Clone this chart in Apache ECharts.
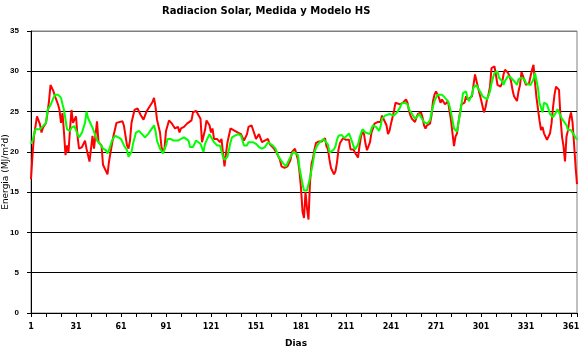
<!DOCTYPE html>
<html>
<head>
<meta charset="utf-8">
<script src="https://cdn.jsdelivr.net/npm/echarts@6/dist/echarts.min.js"></script>
<style>html,body{margin:0;padding:0;background:#fff}#c{width:581px;height:353px}</style>
</head>
<body>
<div id="c"></div>
<script>
// Day numbers and readings for "Medida" (measured, red)
const medDays = [1,2,3,4,5,7,8,9,11,12,13,14,16,17,19,20,21,22,23,24,25,26,27,28,29,31,32,33,35,37,38,40,42,43,45,46,48,49,52,53,55,56,58,62,63,64,65,66,67,68,70,72,74,76,78,80,82,83,84,85,87,88,89,90,91,93,94,95,97,99,100,101,103,105,106,108,109,111,112,114,115,117,118,120,121,122,123,125,127,128,129,130,131,132,134,136,139,141,143,145,146,148,150,151,153,155,156,159,160,163,165,167,168,170,172,174,175,177,178,179,180,181,182,183,184,185,186,187,188,189,190,191,193,195,197,198,199,200,201,203,204,205,206,207,209,210,211,213,214,216,217,219,220,221,222,223,224,225,227,228,229,230,232,233,234,235,237,238,239,240,241,242,243,244,245,247,248,249,251,252,253,254,255,257,258,259,261,262,263,264,265,267,268,269,270,271,272,273,274,275,276,277,279,280,281,282,283,284,285,286,287,288,290,291,292,293,295,296,297,298,299,301,302,303,304,305,306,307,308,310,311,312,314,315,316,317,318,319,320,321,322,323,325,326,327,328,329,330,331,332,333,335,336,337,338,339,340,341,342,343,344,345,346,347,348,349,350,351,352,353,354,355,356,357,358,359,360,361,362,363,364,365];
const medida = [16.6,19.6,22,23.2,24.4,23.4,22.4,23,23.6,24.8,26.3,28.3,27.5,26.9,25.9,25.2,23.6,24.8,22.4,19.6,20.8,20,22.8,25.2,23.6,24.4,22,20.4,20.6,21.4,20.4,18.8,22,20.4,23.8,21.2,20.8,18.4,17.2,18.8,21,22,23.6,23.8,23.2,22,20.8,20.4,21.4,23.6,25.2,25.4,24.6,24,25,25.6,26.2,26.7,25.6,24,22.4,20.6,20,20.4,22.6,23.9,24.1,23.5,22.9,23.1,22.4,22.9,23.1,23.5,23.5,23.9,24.9,25.1,25.1,24.1,21.2,22.7,23.9,23.3,22.4,22.9,21.6,21.6,21.2,21.6,19.8,18.2,19.8,21.2,22.9,22.7,22.4,22.2,21.4,22.2,23.1,23.3,22.2,21.6,22.2,21.2,21.2,21.6,21,20.4,19.8,19,18.2,18,18.2,19,20,20.4,20.3,19,17.5,15.5,12.6,11.8,15,13,11.6,16.2,18.5,19.2,20.3,21.1,21.3,21.3,21.7,20.7,20.3,19,18,17.2,17.6,18.7,20.3,21.1,21.7,21.5,21.5,21.5,20.3,20.3,19.9,19.3,20.7,21.9,22.5,22.2,21,20.2,21.2,22.4,22.9,23.5,23.7,23.9,23.7,24.5,23.7,23.3,22.2,22.6,23.5,24.3,25.1,26.1,26.3,25.9,25.7,26.1,26.5,26.1,25.1,24.5,24.1,23.7,24.3,24.7,24.9,24.3,23.3,22.9,23.3,23.5,24.5,26.3,27.1,27.5,27.1,26.7,26.1,26.5,26.3,25.9,26.3,25.1,23.9,22.3,20.7,21.9,22.3,23.7,24.9,25.9,26.1,26.9,26.5,26.7,26.9,28.3,29.6,29.8,28,26.5,25.7,24.9,25.5,26.5,27.1,28.1,30.4,30.6,29.5,28.3,28.1,28.5,29.6,30.2,30.2,29.8,29.4,28.8,27.7,26.9,26.3,27.5,28.3,29.9,29.4,28.8,28.3,28.1,28.5,30.2,30.8,28.6,26.7,25.3,23.9,22.7,23.1,22.3,21.9,21.5,21.7,22.3,23.5,25.5,27.1,28.1,28.3,27.7,24.3,21.9,20.7,18.8,21.9,22.7,24.1,24.9,23.7,21.1,18.3,16];

// Day numbers and values for "Modelo HS" (model, green)
const modDays = [1,2,4,5,7,8,9,11,12,14,16,17,19,21,22,23,24,25,27,28,30,32,33,35,37,38,39,41,42,44,45,47,49,51,52,53,55,57,58,61,63,65,66,68,69,71,73,75,77,79,82,83,84,85,87,89,90,91,92,94,96,99,101,103,104,106,107,109,111,112,114,116,117,119,120,121,123,125,127,129,130,132,134,135,137,139,141,143,145,146,149,151,153,155,157,159,160,162,164,166,169,171,172,174,176,177,179,180,181,182,183,184,185,186,187,189,190,191,193,194,196,197,199,200,201,203,204,205,206,208,210,211,213,215,216,217,219,220,221,222,224,227,228,229,231,233,234,235,237,238,240,241,243,245,247,248,250,252,253,255,257,258,260,261,263,265,267,268,270,272,275,277,279,280,281,282,283,285,286,287,288,289,291,292,293,294,295,296,298,299,300,301,302,303,305,306,307,308,309,310,312,313,315,316,317,319,320,321,322,323,325,326,327,328,330,331,332,334,336,337,338,339,340,342,343,345,346,347,349,351,352,353,355,356,358,359,360,361,362,363,365];
const modelo = [21,21.4,22.8,23,22.8,22.8,23.2,23.6,25.2,25.8,26.7,27.1,27.1,26.7,25.9,25.2,24,22.8,22.6,23,23.2,22.2,21.8,22.4,23.6,25,24.2,23.4,23,22,21.4,21,20.4,20.2,19.8,20.2,21.4,22,22.2,21.6,20.8,20.2,19.4,20,21,22.4,22.6,22.2,21.8,22.2,23,23.3,22.6,21.4,20.4,19.8,19.8,20.8,21.6,21.6,21.4,21.4,21.6,21.8,21.6,21.4,20.6,20.6,21.4,21.6,21,20,21,21.8,22.2,22,21.2,20.8,20.8,19.4,19,19.4,21.2,21.8,22,22.2,22,20.8,20.8,21.2,21.2,21,20.6,20.4,20.6,21.2,21.2,20.8,20.4,19.4,18.6,18.2,18.6,19.4,20,20.2,19.6,18,17,16,15.2,15,15.2,15.4,16.8,18.7,19.9,20.5,21.1,21.3,21.6,21.7,20.9,19.9,19.9,20.3,20.7,21.5,22,22.1,21.7,21.5,22.3,21.3,20.7,20.3,20.9,21.7,22.3,22.8,22.4,22.2,22.9,23.3,23.1,22.6,23.1,24.1,24.5,24.7,24.7,24.5,24.5,24.9,25.5,26,26.1,25.9,25.3,24.7,24.1,24.3,24.7,24.3,23.7,23.5,23.9,24.9,26.3,27.1,27.1,26.7,26.3,25.7,24.9,23.9,22.9,22.5,23.7,24.7,25.9,27.3,27.5,26.7,26.3,26.7,27.1,28,28.3,27.9,27.7,27.3,26.9,26.7,26.5,26.7,27.5,28.5,29.2,29.8,30,29.2,28.8,28.3,28.8,29.4,29.6,29.2,29,28.8,28.3,29,29,29.2,29,28.5,28.7,28.3,29,29.8,29.6,27.9,26.1,24.9,26.1,25.9,25.3,24.7,24.3,24.9,25.3,25.1,24.1,23.9,23.3,22.7,22.9,22.7,22.9,22.1,21.5,21.1];

const yTicks = [0,5,10,15,20,25,30,35];

const toPairs = (d, v) => d.map((x, i) => [x - 1, v[i]]);

const chart = echarts.init(document.getElementById('c'), null, {renderer: 'canvas'});
chart.setOption({
  backgroundColor: '#ffffff',
  animation: false,
  title: {
    text: 'Radiacion Solar, Medida y Modelo HS',
    left: 157, top: 1,
    textStyle: {fontFamily: 'DejaVu Sans', fontSize: 10, fontWeight: 'bold', color: '#000'}
  },
  grid: {left: 31, right: 4, top: 31, bottom: 40, containLabel: false, outerBoundsMode: 'none',
    show: true, borderColor: '#808080', borderWidth: 1, backgroundColor: '#fff'},
  xAxis: {
    type: 'value', min: 0, max: 364, interval: 30,
    name: 'Dias', nameLocation: 'middle', nameGap: 26, nameMoveOverlap: false,
    nameTextStyle: {fontFamily: 'DejaVu Sans', fontSize: 9, fontWeight: 'bold', color: '#000', padding: [0, 16, 0, 0]},
    axisLine: {lineStyle: {color: '#000', width: 1}},
    axisTick: {show: true, length: 4, lineStyle: {color: '#000'}},
    minorTick: {show: true, splitNumber: 3, length: 4, lineStyle: {color: '#000'}},
    splitLine: {show: false},
    axisLabel: {formatter: v => String(v + 1), showMaxLabel: false, margin: 10,
      fontFamily: 'DejaVu Sans', fontSize: 8, fontWeight: 'bold', color: '#000'}
  },
  yAxis: {
    type: 'value', min: yTicks[0], max: yTicks[yTicks.length - 1], interval: 5,
    name: 'Energia (MJ/m²d)', nameLocation: 'middle', nameGap: 21, nameRotate: 90, nameMoveOverlap: false,
    nameTextStyle: {fontFamily: 'DejaVu Sans', fontSize: 9, color: '#000'},
    axisLine: {show: true, lineStyle: {color: '#000', width: 1}},
    axisTick: {show: true, length: 4, lineStyle: {color: '#000'}},
    splitLine: {show: true, lineStyle: {color: ['#000','#000','#000','#000','#000','#000','#000','#808080'], width: 1}},
    axisLabel: {margin: 12, fontFamily: 'Liberation Sans, Arial', fontSize: 8, fontWeight: 'bold', color: '#000'}
  },
  series: [
    {name: 'Medida', type: 'line', data: toPairs(medDays, medida), showSymbol: false, symbol: 'none',
      lineStyle: {color: '#ff0000', width: 2}, z: 2},
    {name: 'Modelo HS', type: 'line', data: toPairs(modDays, modelo), showSymbol: false, symbol: 'none',
      lineStyle: {color: '#00ff00', width: 2}, z: 3}
  ]
});
</script>
</body>
</html>
